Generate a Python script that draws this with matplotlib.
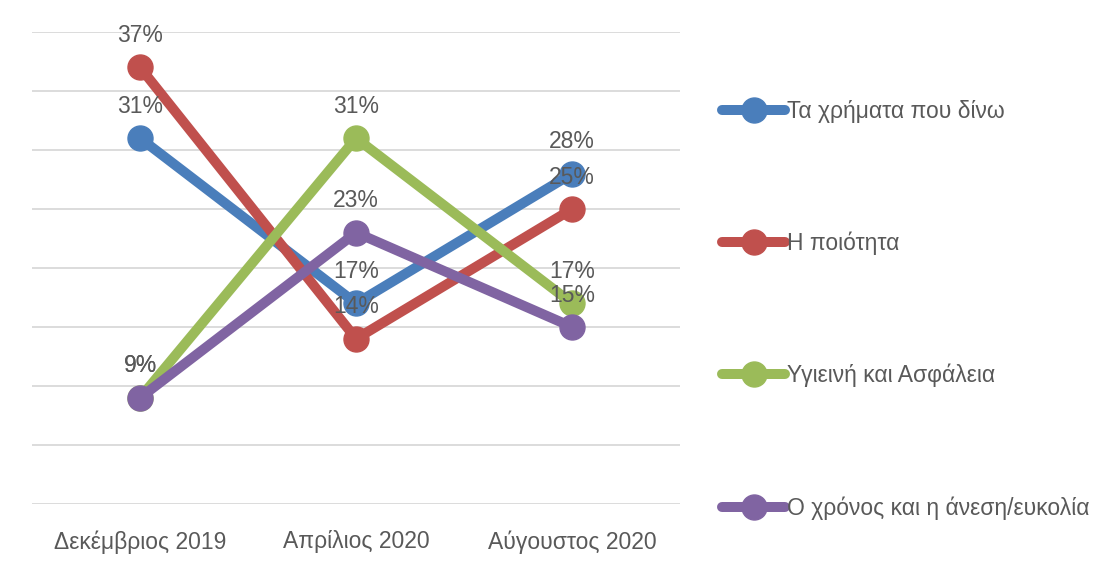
import matplotlib.pyplot as plt
import numpy as np

# survey periods and the share (%) for each factor
periods = ["Δεκέμβριος 2019", "Απρίλιος 2020", "Αύγουστος 2020"]
money = [31, 17, 28]
quality = [37, 14, 25]
hygiene = [9, 31, 17]
time_ease = [9, 23, 15]

names = ["Τα χρήματα που δίνω", "Η ποιότητα", "Υγιεινή και Ασφάλεια",
         "Ο χρόνος και η άνεση/ευκολία"]
colors = ["#4a7ebb", "#c0504d", "#9bbb59", "#8064a2"]

plt.rcParams['font.family'] = ['Liberation Sans', 'DejaVu Sans']
text_gray = "#595959"

fig = plt.figure(figsize=(11.06, 5.68), dpi=100)
ax = fig.add_axes([0.029, 0.1127, 0.586, 0.831])

x = np.arange(len(periods))
series = [money, quality, hygiene, time_ease]
for vals, name, c in zip(series, names, colors):
    ax.plot(x, vals, color=c, lw=7.2, marker='o', ms=18, label=name,
            solid_capstyle='round', solid_joinstyle='round')
    for xi, v in zip(x, vals):
        ax.annotate(f"{v}%", (xi, v), xytext=(0, 23), textcoords='offset points',
                    ha='center', va='center', fontsize=16.5, color=text_gray)

ax.set_xlim(-0.5, 2.5)
ax.set_ylim(0, 40)
ax.set_yticks(np.arange(0, 41, 5))
ax.set_yticklabels([])
ax.tick_params(axis='y', length=0)
ax.grid(axis='y', color='#d9d9d9', lw=1.3)
ax.set_axisbelow(True)
ax.set_xticks(x)
ax.set_xticklabels(periods, fontsize=16.5, color=text_gray)
ax.tick_params(axis='x', length=0, pad=19)
for s in ax.spines.values():
    s.set_visible(False)

fig.legend(loc='center left', bbox_to_anchor=(0.653, 0.455), frameon=False,
           fontsize=16.5, handlelength=2.75, handletextpad=0.08, labelspacing=4.75,
           borderpad=0, borderaxespad=0, labelcolor=text_gray)

fig.savefig("out.png", dpi=100)
